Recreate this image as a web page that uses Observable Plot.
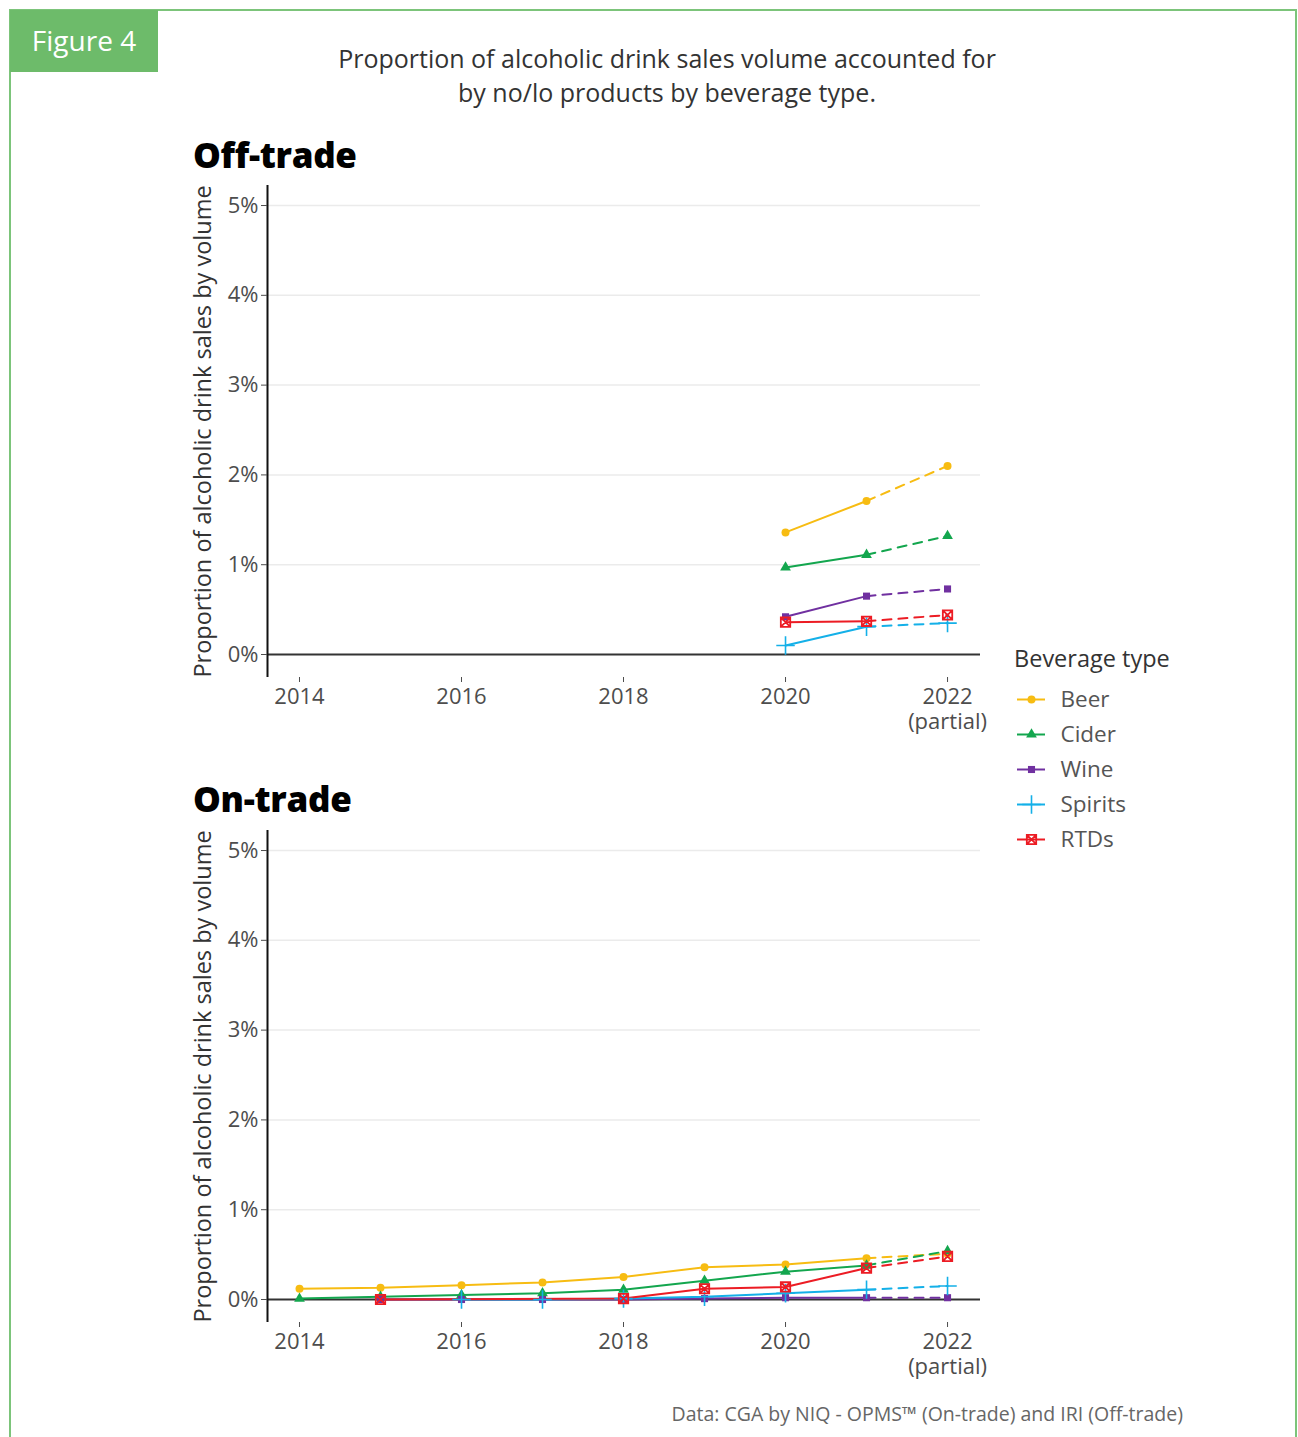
<!DOCTYPE html>
<html>
<head>
<meta charset="utf-8">
<script src="https://cdn.jsdelivr.net/npm/d3@7"></script>
<script src="https://cdn.jsdelivr.net/npm/@observablehq/plot@0.6"></script>
<style>
  html, body { margin: 0; padding: 0; background: #fff; }
  body { width: 1298px; height: 1437px; position: relative; overflow: hidden; font-family: "Open Sans", "Lato", sans-serif; }
  .abs { position: absolute; white-space: nowrap; }
  #border { left: 9px; top: 9px; width: 1284px; height: 1460px; border: 2px solid #7cc47a; }
  #badge { left: 10px; top: 10px; width: 148px; height: 62px; background: #6dbb6a; color: #fff; font-size: 28px; line-height: 60px; text-align: center; }
  #title { left: 267px; width: 800px; top: 41px; text-align: center; font-size: 25px; line-height: 34px; color: #333; }
  .panel-title { font-size: 35px; font-weight: 800; color: #000; left: 193px; line-height: 40px; letter-spacing: -0.3px; }
  #legend-title { left: 1014px; top: 643px; font-size: 23.5px; color: #333; line-height: 30px; }
  #caption { right: 115px; top: 1401px; font-size: 19.5px; color: #666; line-height: 26px; }
  svg { overflow: visible; }
</style>
</head>
<body>
<div id="border" class="abs"></div>
<div id="badge" class="abs">Figure 4</div>
<div id="title" class="abs">Proportion of alcoholic drink sales volume accounted for<br>by no/lo products by beverage type.</div>
<div class="abs panel-title" style="top:135px">Off-trade</div>
<div class="abs panel-title" style="top:779px">On-trade</div>
<div id="off" class="abs" style="left:190px; top:180px;"></div>
<div id="on" class="abs" style="left:190px; top:825px;"></div>
<div id="legend-title" class="abs">Beverage type</div>
<div id="legend" class="abs" style="left:1010px; top:680px;"></div>
<div id="caption" class="abs">Data: CGA by NIQ - OPMS™ (On-trade) and IRI (Off-trade)</div>
<script>
// ---------- DATA ----------
const years = [2014, 2015, 2016, 2017, 2018, 2019, 2020, 2021, 2022];
const types = ["Beer", "Cider", "Wine", "Spirits", "RTDs"];
const colors = ["#f7bc12", "#13a64e", "#7030a0", "#14b0e8", "#ec1c24"];
const tickYears = [2014, 2016, 2018, 2020, 2022];
const tickLabels = ["2014", "2016", "2018", "2020", "2022\n(partial)"];
const yTicks = [0, 1, 2, 3, 4, 5];

// Off-trade (% of volume)
const offBeer    = [null, null, null, null, null, null, 1.36, 1.71, 2.10];
const offCider   = [null, null, null, null, null, null, 0.97, 1.11, 1.32];
const offWine    = [null, null, null, null, null, null, 0.42, 0.65, 0.73];
const offSpirits = [null, null, null, null, null, null, 0.10, 0.31, 0.35];
const offRTDs    = [null, null, null, null, null, null, 0.36, 0.37, 0.44];

// On-trade (% of volume)
const onBeer    = [0.12, 0.13, 0.16, 0.19, 0.25, 0.36, 0.39, 0.46, 0.51];
const onCider   = [0.01, 0.03, 0.05, 0.07, 0.11, 0.21, 0.31, 0.38, 0.54];
const onWine    = [null, 0.00, 0.00, 0.00, 0.00, 0.01, 0.02, 0.02, 0.02];
const onSpirits = [null, null, 0.00, 0.00, 0.01, 0.03, 0.07, 0.11, 0.15];
const onRTDs    = [null, 0.00, null, null, 0.01, 0.12, 0.14, 0.35, 0.48];

// ---------- BUILD TABLES ----------
function table(seriesArrays) {
  const rows = [];
  types.forEach((t, i) => {
    seriesArrays[i].forEach((v, j) => {
      if (v != null) rows.push({type: t, year: years[j], value: v});
    });
  });
  return rows;
}
const offData = table([offBeer, offCider, offWine, offSpirits, offRTDs]);
const onData = table([onBeer, onCider, onWine, onSpirits, onRTDs]);

// square with a cross (ggplot shape 7)
const squareCross = {
  draw(context, size) {
    const s = Math.sqrt(size) / 2;
    context.moveTo(-s, -s); context.lineTo(s, -s); context.lineTo(s, s); context.lineTo(-s, s); context.closePath();
    context.moveTo(-s, -s); context.lineTo(s, s);
    context.moveTo(s, -s); context.lineTo(-s, s);
  }
};

const xDomain = [2013.605, 2022.407];
const yDomain = [-0.256, 5.223];
const FONT = "'Open Sans', Lato, sans-serif";

function panel(data) {
  const solid = data.filter(d => d.year <= 2021);
  const dashed = data.filter(d => d.year >= 2021);
  const filled = data.filter(d => d.type === "Beer" || d.type === "Cider" || d.type === "Wine");
  const spirits = data.filter(d => d.type === "Spirits");
  const rtds = data.filter(d => d.type === "RTDs");
  return Plot.plot({
    width: 830,
    height: 557,
    marginLeft: 77,
    marginRight: 40,
    marginTop: 5,
    marginBottom: 60,
    style: {fontFamily: FONT, fontSize: "22px", color: "#4d4d4d", background: "transparent", overflow: "visible"},
    x: {domain: xDomain},
    y: {domain: yDomain},
    color: {domain: types, range: colors},
    symbol: {domain: ["Beer", "Cider", "Wine"], range: ["circle", "triangle", "square"]},
    marks: [
      Plot.gridY(yTicks.filter(d => d > 0), {stroke: "#ebebeb", strokeOpacity: 1, strokeWidth: 1.5}),
      Plot.ruleY([0], {stroke: "#333", strokeWidth: 2}),
      Plot.ruleX([xDomain[0]], {stroke: "#111", strokeWidth: 2}),
      Plot.axisY({ticks: yTicks, tickFormat: d => d + "%", tickSize: 6, tickPadding: 3, color: "#4d4d4d", label: null}),
      Plot.axisY({ticks: [], tickSize: 0, label: "Proportion of alcoholic drink sales by volume", labelAnchor: "center",
        labelArrow: false, labelOffset: 73, color: "#333", fontSize: 23.5}),
      Plot.axisX({ticks: tickYears, tickFormat: (d) => tickLabels[tickYears.indexOf(d)], tickSize: 5, tickPadding: 4, color: "#4d4d4d", label: null, lineHeight: 1.12}),
      Plot.line(solid, {x: "year", y: "value", z: "type", stroke: "type", strokeWidth: 2}),
      Plot.line(dashed, {x: "year", y: "value", z: "type", stroke: "type", strokeWidth: 2, strokeDasharray: "9,7"}),
      Plot.dot(filled, {x: "year", y: "value", fill: "type", symbol: "type", r: 4}),
      Plot.dot(spirits, {x: "year", y: "value", stroke: "type", symbol: "plus", r: 6, strokeWidth: 1.6}),
      Plot.dot(rtds, {x: "year", y: "value", stroke: "type", symbol: squareCross, r: 5.3, strokeWidth: 1.8, fill: "none"})
    ]
  });
}

document.getElementById("off").appendChild(panel(offData));
document.getElementById("on").appendChild(panel(onData));

// ---------- LEGEND ----------
const legendRows = types.map(t => ({type: t}));
const legend = Plot.plot({
  width: 200, height: 180,
  margin: 0,
  style: {fontFamily: FONT, fontSize: "22.5px", color: "#555", background: "transparent", overflow: "visible"},
  x: {domain: [0, 200], range: [0, 200], axis: null},
  y: {type: "point", domain: types, range: [18, 160], padding: 0, axis: null},
  color: {domain: types, range: colors},
  symbol: {domain: ["Beer", "Cider", "Wine"], range: ["circle", "triangle", "square"]},
  marks: [
    Plot.ruleY(legendRows, {y: "type", x1: 7, x2: 35, stroke: "type", strokeWidth: 2}),
    Plot.dot(legendRows.filter(d => ["Beer", "Cider", "Wine"].includes(d.type)), {x: 21, y: "type", fill: "type", symbol: "type", r: 4}),
    Plot.dot(legendRows.filter(d => d.type === "Spirits"), {x: 21, y: "type", stroke: "type", symbol: "plus", r: 6, strokeWidth: 1.6}),
    Plot.dot(legendRows.filter(d => d.type === "RTDs"), {x: 21, y: "type", stroke: "type", symbol: squareCross, r: 5.3, strokeWidth: 1.8, fill: "none"}),
    Plot.text(legendRows, {x: 50, y: "type", text: "type", textAnchor: "start", fill: "#555"})
  ]
});
document.getElementById("legend").appendChild(legend);
</script>
</body>
</html>
